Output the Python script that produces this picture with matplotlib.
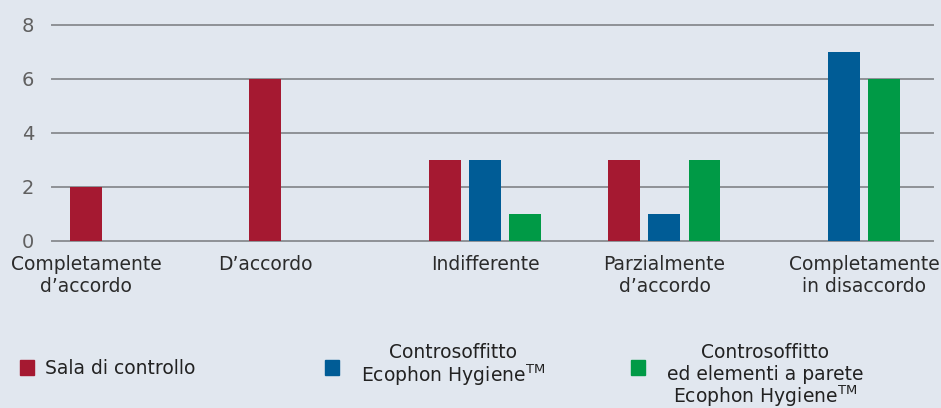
import matplotlib
matplotlib.use("Agg")
import matplotlib.pyplot as plt
import numpy as np
from matplotlib.patches import Rectangle

categories = ["Completamente\nd\u2019accordo", "D\u2019accordo", "Indifferente",
              "Parzialmente\nd\u2019accordo", "Completamente\nin disaccordo"]
sala = [2, 6, 3, 3, 0]
hygiene = [0, 0, 3, 1, 7]
hygiene_parete = [0, 0, 1, 3, 6]
series_names = [["Sala di controllo"],
                ["Controsoffitto", "Ecophon Hygiene$^{\\mathregular{TM}}$"],
                ["Controsoffitto", "ed elementi a parete",
                 "Ecophon Hygiene$^{\\mathregular{TM}}$"]]
colors = ["#a51931", "#005c96", "#009a46"]
yticks = [0, 2, 4, 6, 8]

BG = "#e1e7ef"
FONT = "DejaVu Sans"
plt.rcParams["font.family"] = [FONT]
plt.rcParams["mathtext.fontset"] = "dejavusans"

fig = plt.figure(figsize=(9.41, 4.08), dpi=100, facecolor=BG)
ax = fig.add_axes([52/941, 1-241/408, (933-52)/941, (241-25)/408])
ax.set_facecolor(BG)

x = np.arange(len(categories))
offset = 0.223
width = 0.178
series = [sala, hygiene, hygiene_parete]
for i, (vals, c) in enumerate(zip(series, colors)):
    xs = x + (i - 1) * offset
    v = np.array(vals, dtype=float)
    m = v > 0
    ax.bar(xs[m], v[m], width=width, color=c, zorder=3)

# label positions: center of non-zero bars of each group
label_pos = []
for g in range(len(categories)):
    ps = [g + (i - 1) * offset for i, vals in enumerate(series) if vals[g] > 0]
    label_pos.append(np.mean(ps))
ax.set_xticks(label_pos)
ax.set_xticklabels(categories, fontsize=13.5, color="#2b2b2b", linespacing=1.2)
ax.tick_params(axis="x", length=0, pad=10)

ax.set_ylim(0, 8)
ax.set_xlim(-0.412, 4.496)
ax.set_yticks(yticks)
ax.set_yticklabels([str(t) for t in yticks], fontsize=14, color="#606060")
ax.tick_params(axis="y", length=0, pad=13)
for yv in yticks:
    ax.axhline(yv, color="#8e9196", linewidth=1.4, zorder=1, clip_on=False)
for s in ax.spines.values():
    s.set_visible(False)

# legend
leg_items = [(20, 45, "left"), (325, 453, "center"), (631, 765, "center")]
for (mx, tx, ha), lines, c in zip(leg_items, series_names, colors):
    fig.patches.append(Rectangle((mx/941, 1-375/408), 14/941, 15/408,
                                 transform=fig.transFigure, color=c))
    if ha == "left":
        fig.text(tx/941, 1-368/408, lines[0], ha="left", va="center",
                 fontsize=13.5, color="#222222")
    else:
        for k, line in enumerate(lines):
            yc = 351 + k * 21
            fig.text(tx/941, 1-yc/408, line, ha="center", va="center_baseline",
                     fontsize=13.5, color="#222222")

fig.savefig("out.png", dpi=100, facecolor=BG)
